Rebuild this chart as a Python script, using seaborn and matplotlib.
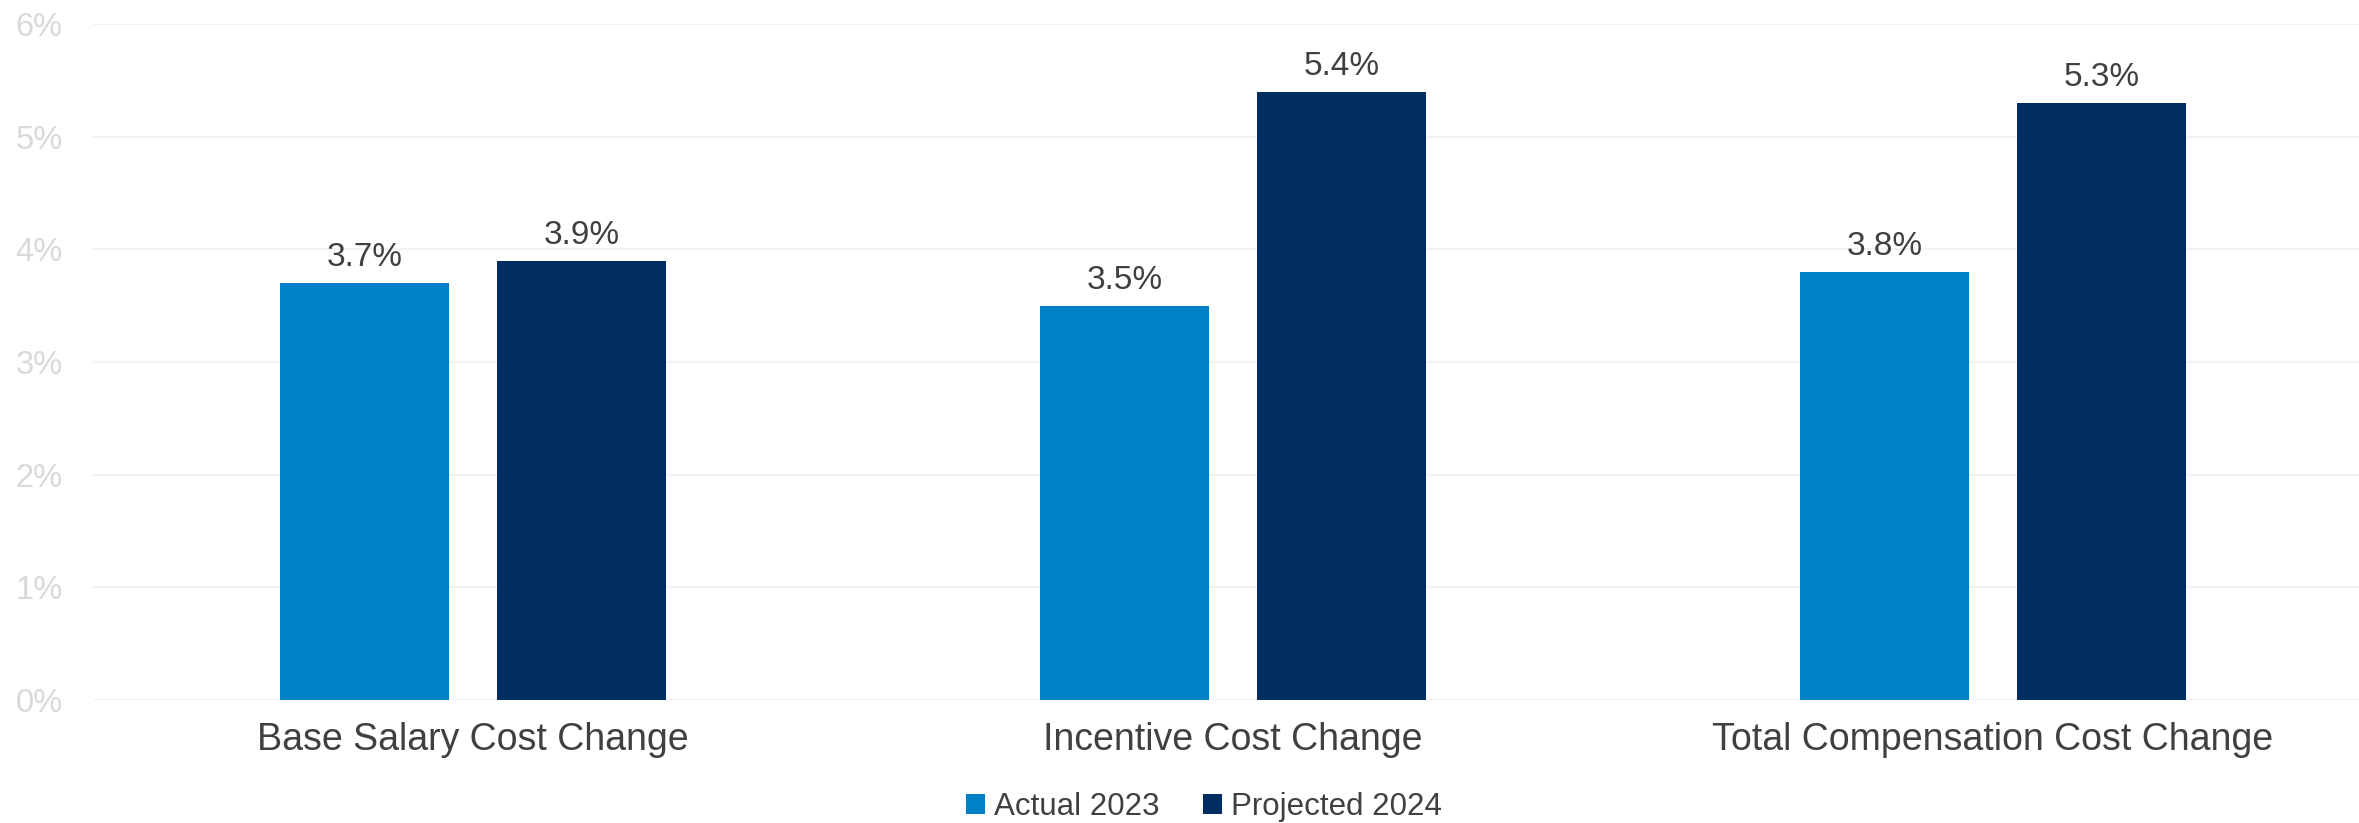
import matplotlib
matplotlib.use("Agg")
import matplotlib.pyplot as plt
import seaborn as sns
import pandas as pd
from matplotlib.patches import Patch

categories = ["Base Salary Cost Change", "Incentive Cost Change", "Total Compensation Cost Change"]
series_names = ["Actual 2023", "Projected 2024"]
actual_2023 = [3.7, 3.5, 3.8]
projected_2024 = [3.9, 5.4, 5.3]
y_ticks = [0, 1, 2, 3, 4, 5, 6]
colors = ["#0080C6", "#002D62"]

df = pd.DataFrame({
    "category": categories * 2,
    "series": [series_names[0]] * 3 + [series_names[1]] * 3,
    "value": actual_2023 + projected_2024,
})

sns.set_theme(style="white")
plt.rcParams["font.family"] = ["Liberation Sans", "DejaVu Sans"]

W, H = 2359, 823
fig = plt.figure(figsize=(W / 100, H / 100), dpi=100)
ax = fig.add_axes([93 / W, 123 / H, 2280 / W, 676 / H])

sns.barplot(data=df, x="category", y="value", hue="series", order=categories,
            hue_order=series_names, palette=colors, width=0.571, gap=0.217,
            saturation=1, ax=ax, legend=False, edgecolor="none")

ax.set_xlim(-0.5, 2.5)
ax.set_ylim(0, 6)
ax.set_yticks(y_ticks)
ax.set_yticklabels([f"{t}%" for t in y_ticks])
ax.yaxis.grid(True, color="#F2F2F2", linewidth=1.5)
ax.set_axisbelow(True)
for s in ax.spines.values():
    s.set_visible(False)
ax.set_xlabel("")
ax.set_ylabel("")
ax.tick_params(axis="y", length=0, pad=22, labelsize=23.5, labelcolor="#D9D9D9")
ax.tick_params(axis="x", length=0, pad=16, labelsize=27, labelcolor="#404040")

for cont in ax.containers:
    ax.bar_label(cont, labels=[f"{v:.1f}%" for v in cont.datavalues],
                 padding=7, fontsize=24, color="#404040")

handles = [Patch(facecolor=c, edgecolor="none") for c in colors]
fig.legend(handles, series_names, loc="center", bbox_to_anchor=(1204 / W, 16 / H),
           ncol=2, frameon=False, fontsize=22.5, labelcolor="#404040",
           handlelength=0.6, handleheight=0.6, handletextpad=0.3, columnspacing=1.4,
           borderpad=0.2)

fig.savefig("out.png", dpi=100)
